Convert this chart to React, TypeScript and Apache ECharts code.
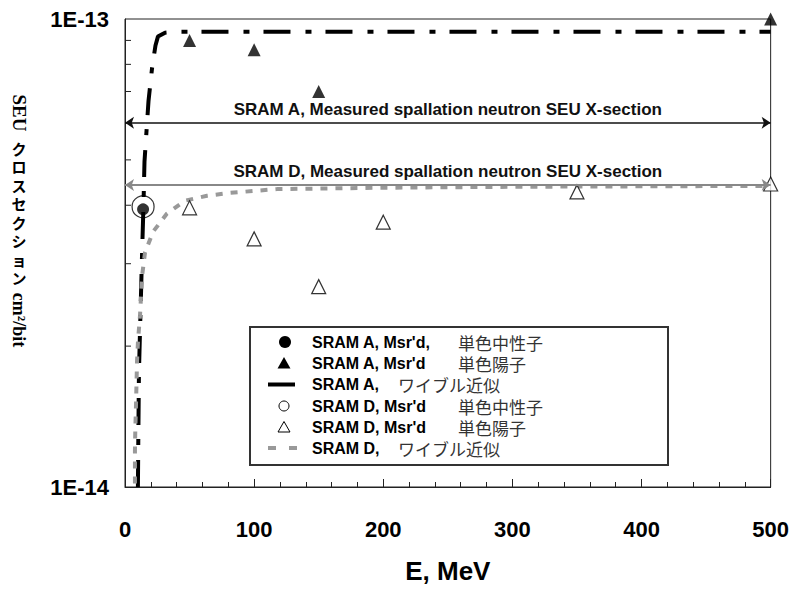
import React, { useEffect, useRef } from "react";
import * as echarts from "echarts";

// ---- data ----
const neutronA_E = [14];
const neutronA_V = [3.92e-14];

const protonA_E = [50, 100, 150, 500];
const protonA_V = [9.0e-14, 8.6e-14, 7.0e-14, 1.0e-13];

const fitA_E = [10.0, 10.3, 10.8, 11.6, 12.4, 13.2, 14.3, 15.1, 16.6, 18.2, 20.9, 23.6, 25.5, 31.0, 38.7, 500];
const fitA_V = [1.0e-14, 1.26e-14, 1.76e-14, 2.14e-14, 2.59e-14, 3.14e-14, 3.99e-14, 4.96e-14, 5.73e-14, 6.68e-14, 7.83e-14, 8.78e-14, 9.17e-14, 9.35e-14, 9.39e-14, 9.39e-14];

const neutronD_E = [14];
const neutronD_V = [3.97e-14];

const protonD_E = [50, 100, 150, 200, 350, 500];
const protonD_V = [3.95e-14, 3.39e-14, 2.68e-14, 3.68e-14, 4.27e-14, 4.44e-14];

const fitD_E = [7.7, 7.7, 7.7, 8.0, 8.5, 8.9, 9.3, 10.1, 11.6, 12.4, 13.2, 15.5, 21.7, 32.5, 46.4, 63.5, 81.3, 99.1, 117.6, 200, 300, 500];
const fitD_V = [9.45e-15, 1.08e-14, 1.2e-14, 1.33e-14, 1.49e-14, 1.66e-14, 1.85e-14, 2.06e-14, 2.32e-14, 2.55e-14, 2.82e-14, 3.17e-14, 3.51e-14, 3.84e-14, 4.09e-14, 4.19e-14, 4.25e-14, 4.29e-14, 4.33e-14, 4.36e-14, 4.38e-14, 4.4e-14];

const measuredA = 6.0e-14; // SRAM A spallation neutron level
const measuredD = 4.42e-14; // SRAM D spallation neutron level

const yTickValues = [2e-14, 3e-14, 4e-14, 5e-14, 6e-14, 7e-14, 8e-14, 9e-14];

const seriesNames = [
  "SRAM A, Msr'd, 単色中性子",
  "SRAM A, Msr'd 単色陽子",
  "SRAM A, ワイブル近似",
  "SRAM D, Msr'd 単色中性子",
  "SRAM D, Msr'd 単色陽子",
  "SRAM D, ワイブル近似",
];
const legendLatin = ["SRAM A, Msr'd,", "SRAM A, Msr'd", "SRAM A,", "SRAM D, Msr'd", "SRAM D, Msr'd", "SRAM D,"];
const legendJapanese = ["単色中性子", "単色陽子", "ワイブル近似", "単色中性子", "単色陽子", "ワイブル近似"];

const yNameLatinTop = "SEU";
const yNameKana = "クロスセクション";
const yNameLatinBottom = "cm²/bit";

const zip = (xs: number[], ys: number[]) => xs.map((x, i) => [x, ys[i]]);

const SANS = "'Liberation Sans', Arial, sans-serif";
const CJK = "'Noto Sans CJK JP', sans-serif";
const SERIF = "'Liberation Serif', 'Times New Roman', serif";

export default function App() {
  const ref = useRef<HTMLDivElement>(null);
  useEffect(() => {
    if (!ref.current) return;
    document.body.style.margin = "0";
    const chart = echarts.init(ref.current, null, { renderer: "svg" });

    // ---- legend drawn as graphic ----
    const rowY = [342, 363, 384.5, 406, 427, 448];
    const iconX = 284;
    const legendIcons: any[] = [
      { type: "circle", shape: { cx: iconX + 1, cy: rowY[0], r: 6 }, style: { fill: "#000" } },
      {
        type: "polygon",
        shape: { points: [[iconX, rowY[1] - 6], [iconX - 6.5, rowY[1] + 5.5], [iconX + 6.5, rowY[1] + 5.5]] },
        style: { fill: "#000" },
      },
      {
        type: "line",
        shape: { x1: 268, y1: rowY[2], x2: 295, y2: rowY[2] },
        style: { stroke: "#000", lineWidth: 4 },
      },
      {
        type: "circle",
        shape: { cx: iconX, cy: rowY[3], r: 5 },
        style: { fill: "transparent", stroke: "#000", lineWidth: 1 },
      },
      {
        type: "polygon",
        shape: { points: [[iconX, rowY[4] - 5.5], [iconX - 6, rowY[4] + 5], [iconX + 6, rowY[4] + 5]] },
        style: { fill: "#fff", stroke: "#000", lineWidth: 1 },
      },
      {
        type: "line",
        shape: { x1: 268, y1: rowY[5], x2: 297, y2: rowY[5] },
        style: { stroke: "#999", lineWidth: 4, lineDash: [8, 13] },
      },
    ];
    const legendTexts: any[] = rowY.map((y, i) => ({
      type: "text",
      x: 312,
      y,
      style: {
        text: `{${i === 2 || i === 5 ? "c" : "a"}|${legendLatin[i]}}{j|${legendJapanese[i]}}`,
        verticalAlign: "middle",
        align: "left",
        rich: {
          a: { fontFamily: SANS, fontWeight: "bold", fontSize: 16, fill: "#000", width: 146, lineHeight: 19 },
          c: { fontFamily: SANS, fontWeight: "bold", fontSize: 16, fill: "#000", width: 86, lineHeight: 19 },
          j: { fontFamily: CJK, fontSize: 17, fill: "#333", lineHeight: 19 },
        },
      },
    }));

    const graphics: any[] = [
      {
        type: "rect",
        shape: { x: 250, y: 327, width: 418, height: 138 },
        style: { fill: "#fff", stroke: "#333", lineWidth: 2 },
        z: 5,
      },
      ...legendIcons.map((g) => ({ ...g, z: 6 })),
      ...legendTexts.map((g) => ({ ...g, z: 6 })),
      {
        type: "text",
        x: 19,
        y: 113,
        rotation: -Math.PI / 2,
        style: {
          text: yNameLatinTop,
          fontFamily: SERIF,
          fontWeight: "bold",
          fontSize: 19,
          fill: "#000",
          align: "center",
          verticalAlign: "middle",
        },
      },
      {
        type: "text",
        x: 19,
        y: 139,
        style: {
          text: yNameKana.split("").join("\n"),
          fontFamily: CJK,
          fontWeight: "bold",
          fontSize: 15,
          lineHeight: 18.5,
          fill: "#000",
          align: "center",
          verticalAlign: "top",
        },
      },
      {
        type: "text",
        x: 19,
        y: 320,
        rotation: -Math.PI / 2,
        style: {
          text: yNameLatinBottom,
          fontFamily: SERIF,
          fontWeight: "bold",
          fontSize: 18,
          fill: "#000",
          align: "center",
          verticalAlign: "middle",
        },
      },
    ];

    const arrowLabel = (text: string) => ({
      show: true,
      position: "middle",
      formatter: text,
      fontFamily: SANS,
      fontWeight: "bold",
      fontSize: 17,
      color: "#111",
      distance: 5,
    });

    const option: any = {
      animation: false,
      backgroundColor: "#fff",
      grid: {
        left: 125,
        right: 21,
        top: 19,
        bottom: 91,
        show: true,
        borderColor: "#222",
        borderWidth: 1,
      },
      xAxis: {
        type: "value",
        min: 0,
        max: 500,
        interval: 100,
        name: "E, MeV",
        nameLocation: "middle",
        nameGap: 71,
        nameTextStyle: { fontFamily: SANS, fontWeight: "bold", fontSize: 26, color: "#000" },
        axisLine: { show: true, lineStyle: { color: "#222", width: 1 } },
        axisTick: { show: true, inside: true, length: 8, lineStyle: { color: "#222" } },
        minorTick: { show: true, splitNumber: 5, length: 5, lineStyle: { color: "#222" } },
        splitLine: { show: false },
        axisLabel: { fontFamily: SANS, fontWeight: "bold", fontSize: 22, color: "#000", margin: 31 },
      },
      yAxis: {
        type: "log",
        logBase: 10,
        min: 1e-14,
        max: 1e-13,
        axisLine: { show: true, lineStyle: { color: "#222", width: 1 } },
        axisTick: { show: false },
        splitLine: { show: false },
        axisLabel: {
          fontFamily: SANS,
          fontWeight: "bold",
          fontSize: 22,
          color: "#000",
          margin: 16,
          formatter: (v: number) => Number(v).toExponential(0).toUpperCase(),
        },
      },
      graphic: graphics,
      series: [
        {
          name: "yMinorTicks",
          type: "custom",
          silent: true,
          data: yTickValues.map((v) => [0, v]),
          renderItem: (_p: any, api: any) => {
            const pt = api.coord([0, api.value(1)]);
            return {
              type: "line",
              shape: { x1: pt[0], y1: pt[1], x2: pt[0] + 6, y2: pt[1] },
              style: { stroke: "#222", lineWidth: 1 },
            };
          },
          z: 1,
        },
        {
          name: seriesNames[2],
          type: "line",
          data: zip(fitA_E, fitA_V),
          symbol: "none",
          z: 2,
          lineStyle: { color: "#000", width: 4, type: [27, 15, 6, 14] },
          itemStyle: { color: "#000" },
          markLine: {
            silent: true,
            symbol: ["arrow", "arrow"],
            symbolSize: 9,
            lineStyle: { color: "#111", width: 1.5, type: "solid" },
            label: arrowLabel("SRAM A, Measured spallation neutron SEU X-section"),
            data: [[{ coord: [0, measuredA] }, { coord: [500, measuredA] }]],
          },
        },
        {
          name: seriesNames[5],
          type: "line",
          data: zip(fitD_E, fitD_V),
          symbol: "none",
          z: 2,
          lineStyle: { color: "#999", width: 4, type: [7, 8] },
          itemStyle: { color: "#999" },
          markLine: {
            silent: true,
            symbol: ["arrow", "arrow"],
            symbolSize: 9,
            lineStyle: { color: "#888", width: 2, type: "solid" },
            label: arrowLabel("SRAM D, Measured spallation neutron SEU X-section"),
            data: [[{ coord: [0, measuredD] }, { coord: [500, measuredD] }]],
          },
        },
        {
          name: seriesNames[3],
          type: "scatter",
          data: zip(neutronD_E, neutronD_V),
          symbol: "circle",
          symbolSize: 22,
          clip: false,
          z: 3,
          itemStyle: { color: "transparent", borderColor: "#000", borderWidth: 1.2 },
        },
        {
          name: seriesNames[0],
          type: "scatter",
          data: zip(neutronA_E, neutronA_V),
          symbol: "circle",
          symbolSize: 12,
          clip: false,
          z: 4,
          itemStyle: { color: "#000" },
        },
        {
          name: seriesNames[1],
          type: "scatter",
          data: zip(protonA_E, protonA_V),
          symbol: "triangle",
          symbolSize: 13,
          clip: false,
          z: 4,
          itemStyle: { color: "#000" },
        },
        {
          name: seriesNames[4],
          type: "scatter",
          data: zip(protonD_E, protonD_V),
          symbol: "triangle",
          symbolSize: 14,
          clip: false,
          z: 4,
          itemStyle: { color: "#fff", borderColor: "#000", borderWidth: 1.2 },
        },
      ],
    };
    chart.setOption(option);
    return () => chart.dispose();
  }, []);
  return <div ref={ref} style={{ width: 792, height: 589 }} />;
}
